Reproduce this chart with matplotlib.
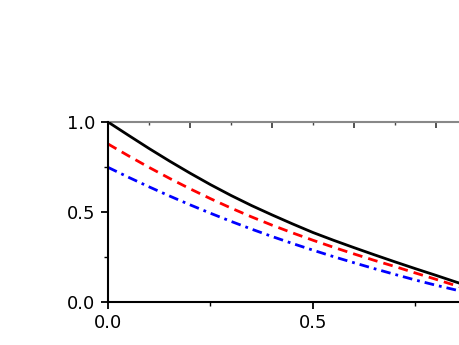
import numpy as np
import matplotlib
matplotlib.use("Agg")
import matplotlib.pyplot as plt
from matplotlib.ticker import MultipleLocator, FixedLocator, NullFormatter

# values
x = [0.0, 0.05, 0.1, 0.15, 0.2, 0.25, 0.3, 0.35, 0.4, 0.45,
     0.5, 0.55, 0.6, 0.65, 0.7, 0.75, 0.8, 0.85, 0.9]
black_curve = [1.000, 0.926, 0.853, 0.783, 0.716, 0.652, 0.592, 0.536, 0.484, 0.434,
               0.386, 0.343, 0.302, 0.262, 0.223, 0.185, 0.148, 0.110, 0.074]
red_curve = [0.878, 0.812, 0.748, 0.687, 0.629, 0.574, 0.522, 0.473, 0.427, 0.384,
             0.343, 0.304, 0.267, 0.231, 0.197, 0.161, 0.126, 0.090, 0.055]
blue_curve = [0.748, 0.693, 0.640, 0.589, 0.540, 0.493, 0.448, 0.405, 0.364, 0.325,
              0.288, 0.252, 0.218, 0.185, 0.153, 0.122, 0.093, 0.066, 0.040]

fig = plt.figure(figsize=(4.6, 3.45), dpi=100)
# axes runs past the right edge of the figure, as in the reference
ax = fig.add_axes([108 / 460, 43 / 345, 410 / 460, 180 / 345])

ax.plot(x, black_curve, color="black", linewidth=2, linestyle="-")
ax.plot(x, red_curve, color="red", linewidth=2, linestyle=(0, (3.5, 2.2)))
ax.plot(x, blue_curve, color="blue", linewidth=2, linestyle=(0, (3.5, 1.8, 1.0, 1.8)))

ax.set_xlim(0, 1)
ax.set_ylim(0, 1)

# only the ticks that are inside the picture
ax.xaxis.set_major_locator(FixedLocator([0.0, 0.5]))
ax.xaxis.set_minor_locator(FixedLocator([0.25, 0.75]))
ax.yaxis.set_major_locator(MultipleLocator(0.5))
ax.yaxis.set_minor_locator(MultipleLocator(0.25))
ax.xaxis.set_major_formatter(plt.FormatStrFormatter("%.1f"))
ax.yaxis.set_major_formatter(plt.FormatStrFormatter("%.1f"))

ax.tick_params(which="major", direction="out", length=5, width=1.3, labelsize=13, pad=4)
ax.tick_params(which="minor", direction="out", length=3, width=1.0)
ax.tick_params(top=False, right=False, which="both")

for side in ["left", "bottom"]:
    ax.spines[side].set_linewidth(1.5)
ax.spines["top"].set_visible(False)

# grey top axis with inward ticks, no labels
top = ax.secondary_xaxis("top")
top.xaxis.set_major_locator(FixedLocator([0.2, 0.4, 0.6, 0.8]))
top.xaxis.set_minor_locator(FixedLocator([0.1, 0.3, 0.5, 0.7]))
top.xaxis.set_major_formatter(NullFormatter())
top.tick_params(which="major", direction="in", length=4, width=1.3, color="#444444")
top.tick_params(which="minor", direction="in", length=2, width=1.0, color="#444444")
top.spines["top"].set_color("#888888")
top.spines["top"].set_linewidth(1.5)

fig.savefig("out.png", dpi=100)
